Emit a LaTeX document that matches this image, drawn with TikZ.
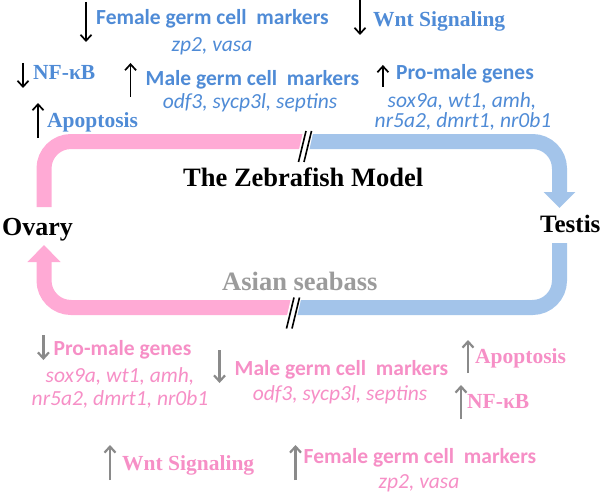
\documentclass[tikz,border=0pt]{standalone}
\usepackage{fontspec}
\setmainfont{Liberation Serif}
\newfontfamily\calfont{Carlito}
\usepackage{tikz}
\usetikzlibrary{arrows.meta}
\definecolor{txtblue}{RGB}{79,139,214}
\definecolor{txtpink}{RGB}{246,143,198}
\definecolor{bandblue}{RGB}{163,196,234}
\definecolor{bandpink}{RGB}{255,170,213}
\definecolor{arrgray}{RGB}{138,138,138}
\definecolor{lblgray}{RGB}{155,155,155}
\tikzstyle{hdblue} = [font=\calfont\bfseries\fontsize{21.5}{24}\selectfont, text=txtblue, inner sep=0pt]
\tikzstyle{lsblue} = [font=\calfont\itshape\fontsize{21.5}{24}\selectfont, text=txtblue, inner sep=0pt]
\tikzstyle{tmblue} = [font=\bfseries\fontsize{21.5}{24}\selectfont, text=txtblue, inner sep=0pt]
\tikzstyle{hdpink} = [font=\calfont\bfseries\fontsize{21.5}{24}\selectfont, text=txtpink, inner sep=0pt]
\tikzstyle{lspink} = [font=\calfont\itshape\fontsize{21.5}{24}\selectfont, text=txtpink, inner sep=0pt]
\tikzstyle{tmpink} = [font=\bfseries\fontsize{21.5}{24}\selectfont, text=txtpink, inner sep=0pt]
\tikzstyle{bigtm} = [font=\bfseries\fontsize{26.5}{30}\selectfont, inner sep=0pt]
\tikzstyle{blkarr} = [draw, black, line width=1.7pt, -{Straight Barb[length=6pt,width=11pt]}]
\tikzstyle{grayarr} = [draw, arrgray, line width=2.2pt, -{Straight Barb[length=6pt,width=11pt]}]
\tikzstyle{pinkband} = [draw, bandpink, line width=15pt, rounded corners=27pt]
\tikzstyle{blueband} = [draw, bandblue, line width=15pt, rounded corners=27pt]
\tikzstyle{slash} = [draw, black, line width=1.6pt]

\begin{document}
\begin{tikzpicture}[x=1pt, y=-1pt]
    \useasboundingbox (0,0) rectangle (600,495);

    % Zebrafish labels (top)
    \node [hdblue, anchor=base] (femtop) at (212.5,25) {Female germ cell~~markers};
    \node [lsblue, anchor=base] (femtopls) at (212,52) {zp2, vasa};
    \node [tmblue, anchor=base west] (wnttop) at (373,27) {Wnt Signaling};
    \node [tmblue, anchor=base west] (nftop) at (33,80) {NF-κB};
    \node [hdblue, anchor=base] (maletop) at (252.5,85) {Male germ cell~~markers};
    \node [lsblue, anchor=base] (maletopls) at (250,108) {odf3, sycp3l, septins};
    \node [hdblue, anchor=base] (protop) at (465,80) {Pro-male genes};
    \node [lsblue, anchor=base] (protopls) at (462,107) {sox9a, wt1, amh,};
    \node [lsblue, anchor=base] (protopls2) at (463,128) {nr5a2, dmrt1, nr0b1};
    \node [tmblue, anchor=base west] (apoptop) at (47,127) {Apoptosis};

    % Middle labels
    \node [bigtm, anchor=base west] (zebra) at (183,186) {The Zebrafish Model};
    \node [bigtm, anchor=base west, font=\bfseries\fontsize{26}{30}\selectfont] (ovary) at (2,235) {Ovary};
    \node [bigtm, anchor=base west, font=\bfseries\fontsize{25}{30}\selectfont] (testis) at (540,232) {Testis};
    \node [bigtm, anchor=base west, text=lblgray] (asian) at (222,290) {Asian seabass};

    % Seabass labels (bottom)
    \node [hdpink, anchor=base] (probot) at (122.5,355) {Pro-male genes};
    \node [lspink, anchor=base] (probotls) at (120,382) {sox9a, wt1, amh,};
    \node [lspink, anchor=base] (probotls2) at (120,405) {nr5a2, dmrt1, nr0b1};
    \node [hdpink, anchor=base] (malebot) at (341.5,375) {Male germ cell~~markers};
    \node [lspink, anchor=base] (malebotls) at (340,400) {odf3, sycp3l, septins};
    \node [tmpink, anchor=base west] (apopbot) at (475,363) {Apoptosis};
    \node [tmpink, anchor=base west] (nfbot) at (467,408) {NF-κB};
    \node [tmpink, anchor=base west] (wntbot) at (122,470) {Wnt Signaling};
    \node [hdpink, anchor=base] (fembot) at (420,463) {Female germ cell~~markers};
    \node [lspink, anchor=base] (fembotls) at (419,488) {zp2, vasa};

    % Loop
    \coordinate (ovup) at (44,207);
    \coordinate (topcut) at (306,141.5);
    \coordinate (tsdn) at (559.5,208);
    \coordinate (tsup) at (559.5,243);
    \coordinate (botcut) at (294,307.5);
    \coordinate (ovdn) at (44,245);

    \path [pinkband] (ovup) |- (topcut);
    \path [blueband, -{Triangle[length=16pt,width=31pt]}] (topcut) -| (tsdn);
    \path [blueband] (tsup) |- (botcut);
    \path [pinkband, -{Triangle[length=17pt,width=32pt]}] (botcut) -| (ovdn);

    % Breaks
    \path [draw, white, line width=10pt] ([shift={(2.5,-11)}]topcut) -- ([shift={(-2.5,11)}]topcut);
    \path [slash] ([shift={(0,-10.5)}]topcut) -- ([shift={(-7.5,20.5)}]topcut);
    \path [slash] ([shift={(5.5,-10.5)}]topcut) -- ([shift={(-2,20.5)}]topcut);
    \path [draw, white, line width=10pt] ([shift={(2.5,-11)}]botcut) -- ([shift={(-2.5,11)}]botcut);
    \path [slash] ([shift={(0,-10)}]botcut) -- ([shift={(-7.5,21)}]botcut);
    \path [slash] ([shift={(5.5,-10)}]botcut) -- ([shift={(-2,21)}]botcut);

    % Up and down marks
    \path [blkarr] ([shift={(-10,-23)}]femtop.base west) -- ++(0,40);
    \path [blkarr] ([shift={(-13,-27)}]wnttop.base west) -- ++(0,35);
    \path [blkarr] ([shift={(-10,-17)}]nftop.base west) -- ++(0,25);
    \path [blkarr] ([shift={(-15,12)}]maletop.base west) -- ++(0,-34);
    \path [blkarr] ([shift={(-13,7)}]protop.base west) -- ++(0,-22);
    \path [blkarr] ([shift={(-9,11)}]apoptop.base west) -- ++(0,-35);

    \path [grayarr] ([shift={(-10,-20)}]probot.base west) -- ++(0,25);
    \path [grayarr] ([shift={(-15,-25)}]malebot.base west) -- ++(0,33);
    \path [grayarr] ([shift={(-12,10)}]wntbot.base west) -- ++(0,-35);
    \path [grayarr] ([shift={(-8,17)}]fembot.base west) -- ++(0,-35);
    \path [grayarr] ([shift={(-7,10)}]apopbot.base west) -- ++(0,-33);
    \path [grayarr] ([shift={(-6,11)}]nfbot.base west) -- ++(0,-34);
\end{tikzpicture}
\end{document}
